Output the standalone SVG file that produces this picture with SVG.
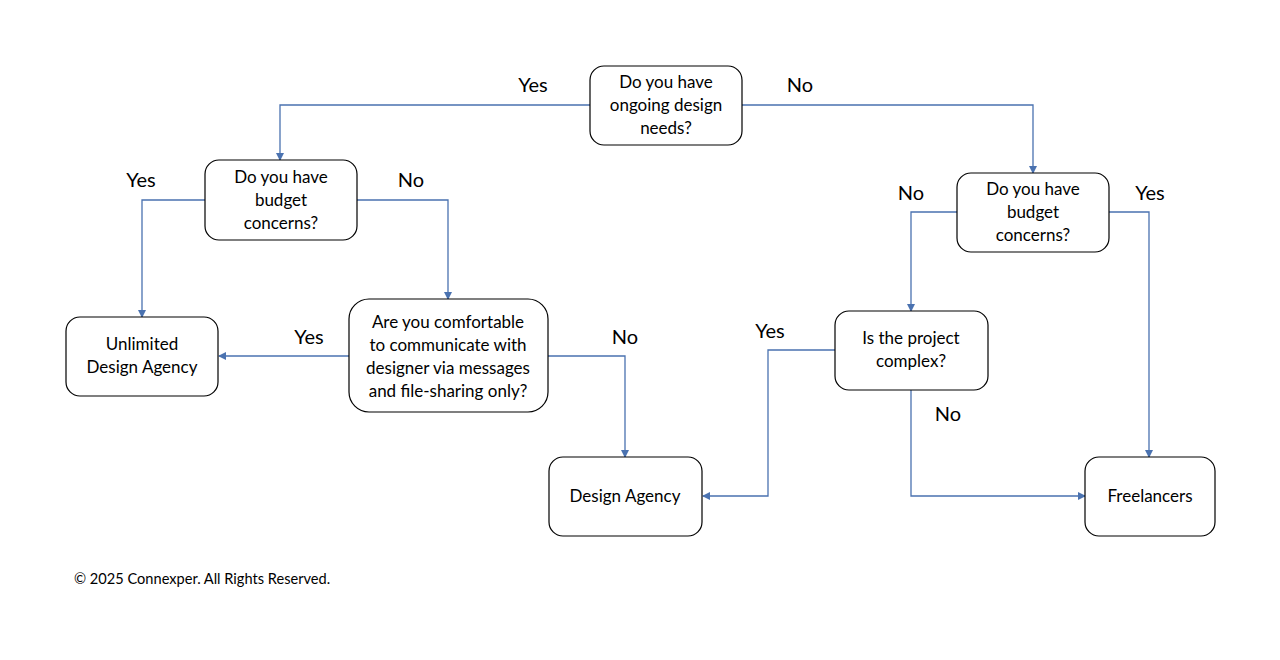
<svg xmlns="http://www.w3.org/2000/svg" width="1280" height="660" viewBox="0 0 1280 660">
<style>
.box{fill:#fff;stroke:#000;stroke-width:1.2}
.t{font-family:Lato,"Open Sans","Liberation Sans",sans-serif;font-size:17px;fill:#000;text-anchor:middle}
.lbl{font-family:Lato,"Open Sans","Liberation Sans",sans-serif;font-size:20px;fill:#000;text-anchor:middle}
.c{fill:none;stroke:#4a72b0;stroke-width:1.3;marker-end:url(#ah)}
.copy{font-family:Lato,"Open Sans","Liberation Sans",sans-serif;font-size:14.6px;fill:#000}
</style>
<defs>
<marker id="ah" markerWidth="8" markerHeight="8" refX="7" refY="4" orient="auto" markerUnits="userSpaceOnUse">
<path d="M0,0 L8,4 L0,8 Z" fill="#4a72b0"/>
</marker>
</defs>
<rect width="1280" height="660" fill="#fff"/>
<g id="connectors">
<path class="c" d="M590,105 H280 V160"/>
<path class="c" d="M742,105 H1033 V173"/>
<path class="c" d="M205,200 H142 V317"/>
<path class="c" d="M357,200 H448 V299"/>
<path class="c" d="M349,356 H219"/>
<path class="c" d="M548,356 H625 V457"/>
<path class="c" d="M957,212 H911 V311"/>
<path class="c" d="M1109,212 H1149 V457"/>
<path class="c" d="M835,350 H768 V496 H703"/>
<path class="c" d="M911,390 V496 H1085"/>
<text class="lbl" x="533" y="92">Yes</text>
<text class="lbl" x="800" y="92">No</text>
<text class="lbl" x="141" y="187">Yes</text>
<text class="lbl" x="411" y="187">No</text>
<text class="lbl" x="309" y="344">Yes</text>
<text class="lbl" x="625" y="344">No</text>
<text class="lbl" x="911" y="200">No</text>
<text class="lbl" x="1150" y="200">Yes</text>
<text class="lbl" x="770" y="338">Yes</text>
<text class="lbl" x="948" y="421">No</text>
</g>
<g id="n-ongoing">
<rect class="box" x="590" y="66" width="152" height="79" rx="14"/>
<text class="t" x="666" y="88">Do you have</text>
<text class="t" x="666" y="111">ongoing design</text>
<text class="t" x="666" y="134">needs?</text>
</g>
<g id="n-budget-left">
<rect class="box" x="205" y="160" width="152" height="80" rx="14"/>
<text class="t" x="281" y="183">Do you have</text>
<text class="t" x="281" y="206">budget</text>
<text class="t" x="281" y="229">concerns?</text>
</g>
<g id="n-budget-right">
<rect class="box" x="957" y="173" width="152" height="79" rx="14"/>
<text class="t" x="1033" y="195">Do you have</text>
<text class="t" x="1033" y="218">budget</text>
<text class="t" x="1033" y="241">concerns?</text>
</g>
<g id="n-unlimited">
<rect class="box" x="66" y="317" width="152" height="79" rx="14"/>
<text class="t" x="142" y="350">Unlimited</text>
<text class="t" x="142" y="373">Design Agency</text>
</g>
<g id="n-comfortable">
<rect class="box" x="349" y="299" width="199" height="113" rx="20"/>
<text class="t" x="448" y="328">Are you comfortable</text>
<text class="t" x="448" y="351">to communicate with</text>
<text class="t" x="448" y="374">designer via messages</text>
<text class="t" x="448" y="397">and file-sharing only?</text>
</g>
<g id="n-design-agency">
<rect class="box" x="549" y="457" width="153" height="79" rx="14"/>
<text class="t" x="625" y="502">Design Agency</text>
</g>
<g id="n-complex">
<rect class="box" x="835" y="311" width="153" height="79" rx="14"/>
<text class="t" x="911" y="344">Is the project</text>
<text class="t" x="911" y="367">complex?</text>
</g>
<g id="n-freelancers">
<rect class="box" x="1085" y="457" width="130" height="79" rx="14"/>
<text class="t" x="1150" y="502">Freelancers</text>
</g>
<text class="copy" x="74" y="584">© 2025 Connexper. All Rights Reserved.</text>
</svg>
